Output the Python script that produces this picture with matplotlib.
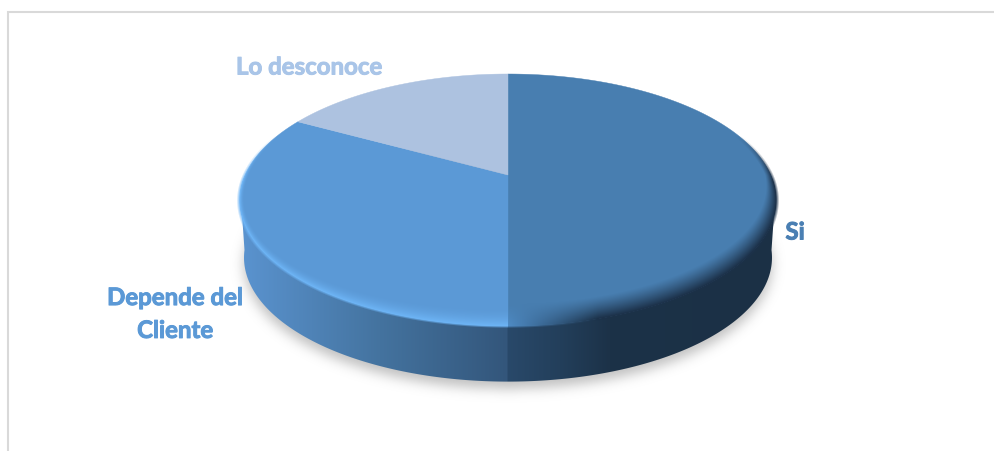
# Gráfico de pastel 3D con perspectiva, dibujado a mano sobre un eje en píxeles
import numpy as np
import matplotlib
matplotlib.use("Agg")
import matplotlib.pyplot as plt
import matplotlib.patheffects as pe
from matplotlib.colors import to_rgb
from matplotlib.patches import Polygon
from matplotlib.path import Path

# Datos del gráfico
categorias = ["Si", "Depende del\nCliente", "Lo desconoce"]
porcentajes = [50, 33, 17]
colores = ["#487eb0", "#5b99d6", "#adc2e0"]
colores_texto = ["#4a7fb3", "#5b99d6", "#a9c5e8"]

# Geometría de la proyección (en píxeles de la figura)
ANCHO, ALTO = 994, 451
CX, CY = 508, 175
A, B, K = 262.7, 121.0, 0.198
ESCALA_BASE, CAIDA_BASE = 0.985, 58


def proyectar(x, y, escala=1.0, caida=0.0):
    w = 1 + K * y
    return CX + escala * A * x / w, CY - escala * B * y / w + caida


def borde(a0, a1, escala=1.0, caida=0.0, n=300):
    # Ángulos en grados, en sentido horario desde arriba
    t = np.radians(np.linspace(a0, a1, n))
    return proyectar(np.sin(t), np.cos(t), escala, caida)


def suavizar(img, sigma):
    r = int(3 * sigma)
    nucleo = np.exp(-0.5 * (np.arange(-r, r + 1) / sigma) ** 2)
    nucleo /= nucleo.sum()
    img = np.apply_along_axis(np.convolve, 0, img, nucleo, mode="same")
    return np.apply_along_axis(np.convolve, 1, img, nucleo, mode="same")


fig = plt.figure(figsize=(ANCHO / 100, ALTO / 100), dpi=100)
ax = fig.add_axes([0, 0, 1, 1])
ax.set_xlim(0, ANCHO)
ax.set_ylim(ALTO, 0)
ax.axis("off")
extent = (0, ANCHO, ALTO, 0)

xx, yy = np.meshgrid(np.arange(ANCHO) + 0.5, np.arange(ALTO) + 0.5)

# Marco del gráfico (solo arriba y a la izquierda)
ax.plot([8, 8, ANCHO], [ALTO, 12, 12], color="#d9d9d9", linewidth=1.5,
        solid_joinstyle="miter", zorder=1)

# Sombra difusa debajo del disco
xs, ys = borde(0, 360, ESCALA_BASE, CAIDA_BASE + 7)
mascara = Path(np.column_stack([xs, ys])).contains_points(
    np.column_stack([xx.ravel(), yy.ravel()])
).reshape(xx.shape).astype(float)
sombra = np.zeros((ALTO, ANCHO, 4))
sombra[..., :3] = 0.55
sombra[..., 3] = suavizar(mascara, 6) * 0.55
ax.imshow(sombra, extent=extent, interpolation="nearest", zorder=2, aspect="auto")

# Lateral del cilindro con degradado horizontal
paradas_x = [243, 380, 507, 508, 560, 610, 775]
paradas_c = ["#5a93cf", "#44739f", "#33567b", "#29496a", "#233f5b", "#1c3248", "#1b3045"]
paradas_rgb = np.array([to_rgb(c) for c in paradas_c])
lateral = np.dstack([np.interp(xx, paradas_x, paradas_rgb[:, i]) for i in range(3)])
sx_base, sy_base = borde(262, 98, ESCALA_BASE, CAIDA_BASE)
sx_cara, sy_cara = borde(98, 262)
contorno = np.column_stack([np.r_[sx_base, sx_cara], np.r_[sy_base, sy_cara]])
img = ax.imshow(lateral, extent=extent, interpolation="nearest", zorder=3, aspect="auto")
img.set_clip_path(Polygon(contorno, transform=ax.transData))

# Cara superior: una porción por categoría, a partir de los porcentajes
cortes = np.r_[0, np.cumsum(porcentajes)] * 360 / sum(porcentajes)
for i, color in enumerate(colores):
    px, py = borde(cortes[i], cortes[i + 1])
    ax.add_patch(Polygon(np.column_stack([np.r_[CX, px], np.r_[CY, py]]),
                         facecolor=color, edgecolor=color, linewidth=0.3, zorder=4))

# Bisel del borde frontal: brillo en "Depende", oscuro en "Si"
sx = (xx - CX) / A
sy = (CY - yy) / B
Y = sy / (1 - K * sy)
X = sx * (1 + K * Y)
r = np.hypot(X, Y)
frente = np.clip(-Y / np.maximum(r, 1e-6), 0, 1)
ancho_dep = 0.016 + 0.085 * frente ** 3
ancho_si = 0.022 + 0.10 * frente
t_dep = np.clip((r - (1 - ancho_dep)) / ancho_dep, 0, 1)
t_si = np.clip((r - (1 - ancho_si)) / ancho_si, 0, 1)
angulo = np.degrees(np.arctan2(X, Y)) % 360

bisel = np.zeros((ALTO, ANCHO, 4))
es_si = angulo < cortes[1]
es_dep = (angulo >= cortes[1]) & (angulo < 300)
bisel[es_dep, :3] = to_rgb("#6db4f5")
bisel[es_dep, 3] = t_dep[es_dep] ** 2
# Cerca de la unión con el lateral el bisel de "Si" es más claro
mezcla = np.clip((xx - CX) / 90, 0, 1)
oscuro = np.array(to_rgb("#1c3249"))
claro = np.array(to_rgb("#4f8cc6"))
for c in range(3):
    bisel[..., c][es_si] = (claro[c] + (oscuro[c] - claro[c]) * mezcla)[es_si]
bisel[..., 3][es_si] = (t_si ** 1.2)[es_si]
# El bisel se funde con el lateral en lugar de cortarse en seco
bisel[..., 3] *= np.clip((1.012 - r) / 0.012, 0, 1)
# Sin bisel en la parte trasera del disco
bisel[..., 3] *= np.clip((-Y + 0.35) / 0.4, 0, 1)
ax.imshow(bisel, extent=extent, interpolation="bilinear", zorder=5, aspect="auto")

# Etiquetas de cada porción
posiciones = [(795, 232), (175, 314), (309, 67)]
for nombre, color, (tx, ty) in zip(categorias, colores_texto, posiciones):
    ax.text(tx, ty, nombre, color=color, family="Lato", weight="bold", fontsize=17.3,
            ha="center", va="center", linespacing=1.52, zorder=6,
            path_effects=[pe.withStroke(linewidth=0.7, foreground=color)])

ax.set_xlim(0, ANCHO)
ax.set_ylim(ALTO, 0)
fig.savefig("out.png", dpi=100)
